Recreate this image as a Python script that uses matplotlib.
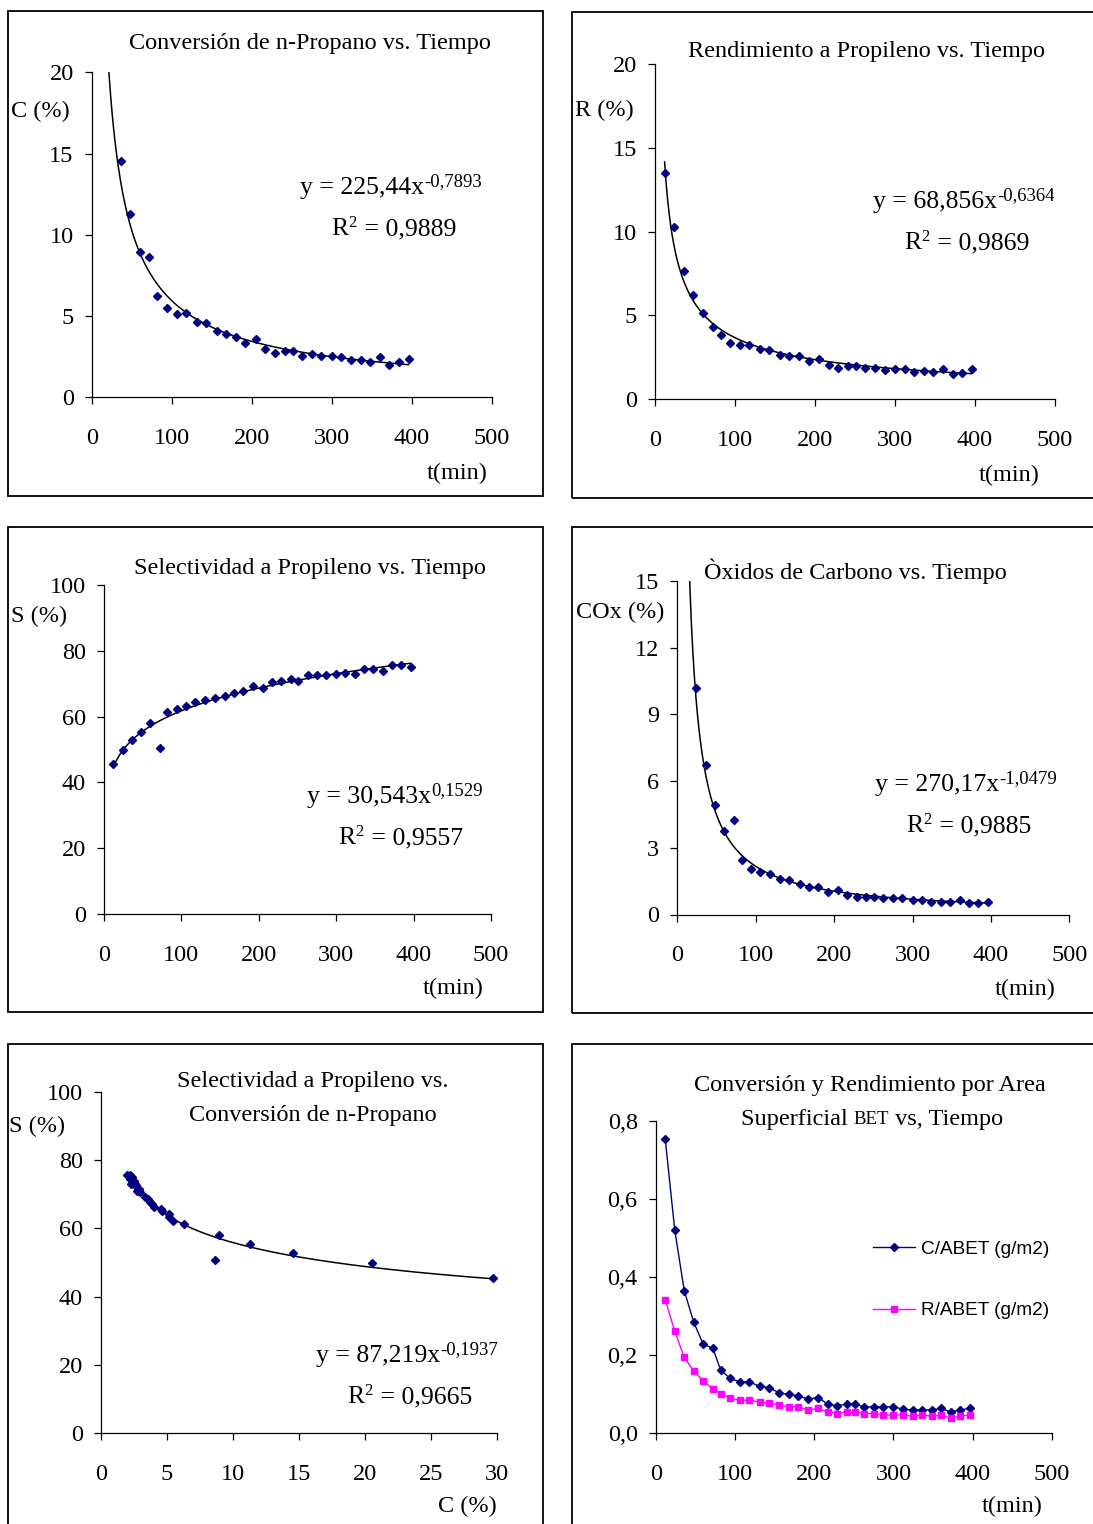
import numpy as np
import matplotlib
matplotlib.use('Agg')
import matplotlib.pyplot as plt
from matplotlib.patches import Rectangle

plt.rcParams['font.family'] = ['Liberation Serif', 'DejaVu Serif']

# datos
t = [12, 24, 36, 48, 60, 72, 82, 94, 106, 118, 131, 143, 156, 168, 180, 192, 205,
     217, 229, 241, 251, 263, 275, 287, 300, 312, 324, 336, 348, 360, 372, 384, 396]
C = [29.7, 20.5, 14.54, 11.25, 8.97, 8.66, 6.25, 5.47, 5.14, 5.18, 4.65, 4.57, 4.05,
     3.87, 3.74, 3.35, 3.58, 2.96, 2.75, 2.86, 2.86, 2.57, 2.67, 2.57, 2.57, 2.49,
     2.28, 2.28, 2.18, 2.49, 1.99, 2.18, 2.38]
R = [13.48, 10.26, 7.67, 6.22, 5.17, 4.30, 3.82, 3.34, 3.22, 3.24, 3.02, 2.94, 2.66,
     2.56, 2.56, 2.27, 2.39, 2.05, 1.89, 1.99, 1.99, 1.87, 1.87, 1.77, 1.79, 1.81,
     1.61, 1.69, 1.61, 1.81, 1.49, 1.59, 1.81]
S = [45.5, 49.8, 52.9, 55.4, 58.0, 50.6, 61.3, 62.3, 63.3, 64.3, 65.0, 65.6, 66.3,
     67.3, 67.7, 69.2, 68.6, 70.6, 70.9, 71.5, 70.9, 72.6, 72.6, 72.6, 73.0, 73.4,
     72.9, 74.6, 74.6, 73.9, 75.6, 75.6, 75.0]
COx = [20.0, 10.19, 6.72, 4.93, 3.77, 4.27, 2.47, 2.03, 1.89, 1.81, 1.59, 1.53, 1.38,
       1.23, 1.23, 1.02, 1.10, 0.87, 0.80, 0.80, 0.80, 0.72, 0.72, 0.72, 0.65, 0.65,
       0.57, 0.57, 0.57, 0.65, 0.50, 0.50, 0.57]
C_ABET = [0.754, 0.521, 0.365, 0.284, 0.227, 0.218, 0.161, 0.140, 0.131, 0.131, 0.120,
          0.116, 0.103, 0.099, 0.095, 0.087, 0.091, 0.074, 0.070, 0.074, 0.074, 0.067,
          0.067, 0.067, 0.067, 0.061, 0.059, 0.059, 0.059, 0.063, 0.054, 0.059, 0.063]
R_ABET = [0.342, 0.261, 0.194, 0.159, 0.134, 0.113, 0.101, 0.089, 0.084, 0.084, 0.080,
          0.076, 0.072, 0.067, 0.067, 0.059, 0.063, 0.054, 0.050, 0.054, 0.054, 0.050,
          0.050, 0.046, 0.046, 0.046, 0.043, 0.046, 0.043, 0.046, 0.038, 0.043, 0.046]

# ajustes potenciales y = a*x^b
fit_a = [225.44, 68.856, 30.543, 270.17, 87.219]
fit_b = [-0.7893, -0.6364, 0.1529, -1.0479, -0.1937]
fit_r2 = ['0,9889', '0,9869', '0,9557', '0,9885', '0,9665']

W, H = 1093, 1524
fig = plt.figure(figsize=(W / 100, H / 100), dpi=100)
NAVY = '#000080'
FS = 17.5
FSE = 18.5
MS = 4.2


def fx(x):
    return x / W


def fy(y):
    return 1 - y / H


def box(x0, y0, x1, y1):
    fig.add_artist(Rectangle((fx(x0), fy(y1)), fx(x1) - fx(x0), fy(y0) - fy(y1),
                             transform=fig.transFigure, fill=False, lw=1.3, ec='black'))


def make_ax(l, r, top, bot, xlim, ylim, xt, yt, ylab=None):
    ax = fig.add_axes([fx(l), fy(bot), fx(r) - fx(l), fy(top) - fy(bot)])
    ax.set_xlim(xlim)
    ax.set_ylim(ylim)
    ax.set_xticks(xt)
    ax.set_yticks(yt)
    if ylab is not None:
        ax.set_yticklabels(ylab)
    for s in ['top', 'right']:
        ax.spines[s].set_visible(False)
    for s in ['left', 'bottom']:
        ax.spines[s].set_linewidth(0.9)
    ax.tick_params(axis='x', direction='out', length=5, width=0.9, pad=17, labelsize=FS)
    ax.tick_params(axis='y', direction='out', length=5, width=0.9, pad=8, labelsize=FS)
    ax.patch.set_alpha(0)
    return ax


def txt(x, y, s, size=FS, ha='left', va='center', **kw):
    return fig.text(fx(x), fy(y), s, fontsize=size, ha=ha, va=va, **kw)


renderer = fig.canvas.get_renderer()


def equation(x, y, i):
    base = txt(x, y, 'y = ' + f'{fit_a[i]}'.replace('.', ',') + 'x', size=FSE)
    bb = base.get_window_extent(renderer=renderer)
    sup = f'{fit_b[i]:.4f}'.replace('.', ',')
    fig.text(bb.x1 / W, (bb.y1 - 5) / H, sup, fontsize=13.5, ha='left', va='center')
    r = txt(x + 31, y + 41, 'R', size=FSE)
    bb = r.get_window_extent(renderer=renderer)
    fig.text(bb.x1 / W + 0.0005, (bb.y1 - 5) / H, '2', fontsize=12, ha='left', va='center')
    fig.text(bb.x1 / W + 0.009, fy(y + 41), ' = ' + fit_r2[i], fontsize=FSE, ha='left', va='center')


def trend(ax, xs, i):
    xx = np.linspace(min(xs), max(xs), 400)
    ax.plot(xx, fit_a[i] * xx ** fit_b[i], color='black', lw=1.1)


# ---- panel 1
box(8, 11, 543, 496)
ax1 = make_ax(91.7, 491.7, 72.3, 397.3, (0, 500), (0, 20), range(0, 501, 100), range(0, 21, 5))
trend(ax1, t, 0)
ax1.plot(t, C, 'D', color=NAVY, ms=MS, clip_on=True)
txt(309.5, 44, 'Conversión de n-Propano vs. Tiempo', ha='center')
txt(11, 111, 'C (%)')
txt(488, 473, 't(min)', ha='right')
equation(300, 188, 0)

# ---- panel 2
box(572, 12, 1120, 498)
ax2 = make_ax(655, 1055, 64, 399.3, (0, 500), (0, 20), range(0, 501, 100), range(0, 21, 5))
trend(ax2, t, 1)
ax2.plot(t, R, 'D', color=NAVY, ms=MS)
txt(867, 52, 'Rendimiento a Propileno vs. Tiempo', ha='center')
txt(575, 110, 'R (%)')
txt(1040, 475, 't(min)', ha='right')
equation(873, 202, 1)

# ---- panel 3
box(8, 527, 543, 1012)
ax3 = make_ax(104, 491, 585, 914, (0, 500), (0, 100), range(0, 501, 100), range(0, 101, 20))
trend(ax3, t, 2)
ax3.plot(t, S, 'D', color=NAVY, ms=MS)
txt(310, 568, 'Selectividad a Propileno vs. Tiempo', ha='center')
txt(11, 616, 'S (%)')
txt(484, 988, 't(min)', ha='right')
equation(307, 797, 2)

# ---- panel 4
box(572, 527, 1120, 1013)
ax4 = make_ax(677.3, 1069.3, 581, 914.5, (0, 500), (0, 15), range(0, 501, 100), range(0, 16, 3))
trend(ax4, t, 3)
ax4.plot(t, COx, 'D', color=NAVY, ms=MS)
txt(855, 571, 'Òxidos de Carbono vs. Tiempo', ha='center')
txt(576, 612, 'COx (%)')
txt(1056, 989, 't(min)', ha='right')
equation(875, 785, 3)

# ---- panel 5
box(8, 1044, 543, 1540)
ax5 = make_ax(101, 497, 1092, 1433, (0, 30), (0, 100), range(0, 31, 5), range(0, 101, 20))
trend(ax5, C, 4)
ax5.plot(C, S, 'D', color=NAVY, ms=MS)
txt(313, 1081, 'Selectividad a Propileno vs.', ha='center')
txt(313, 1115, 'Conversión de n-Propano', ha='center')
txt(9, 1126, 'S (%)')
txt(497, 1506, 'C (%)', ha='right')
equation(316, 1356, 4)

# ---- panel 6
box(572, 1044, 1120, 1540)
ax6 = make_ax(655.7, 1052, 1121, 1433, (0, 500), (0, 0.8), range(0, 501, 100),
              [0, 0.2, 0.4, 0.6, 0.8], ['0,0', '0,2', '0,4', '0,6', '0,8'])
l1, = ax6.plot(t, C_ABET, '-D', color=NAVY, ms=MS, lw=1.0, label='C/ABET (g/m2)')
l2, = ax6.plot(t, R_ABET, '-s', color='#FF00FF', ms=4.5, lw=1.0, label='R/ABET (g/m2)')
txt(870, 1085, 'Conversión y Rendimiento por Area', ha='center')
a = txt(741, 1119, 'Superficial ')
bb = a.get_window_extent(renderer=renderer)
b = fig.text(bb.x1 / W, fy(1120), 'BET', fontsize=13.5, ha='left', va='center')
bb = b.get_window_extent(renderer=renderer)
fig.text(bb.x1 / W, fy(1119), ' vs, Tiempo', fontsize=FS, ha='left', va='center')
txt(1043, 1506, 't(min)', ha='right')
fig.legend(handles=[l1, l2], loc='center left', bbox_to_anchor=(fx(856), fy(1280)),
           frameon=False, handlelength=2.2, handletextpad=0.3, labelspacing=2.3,
           prop={'family': 'Liberation Sans', 'size': 13.7})

fig.savefig('out.png', dpi=100, facecolor='white')
